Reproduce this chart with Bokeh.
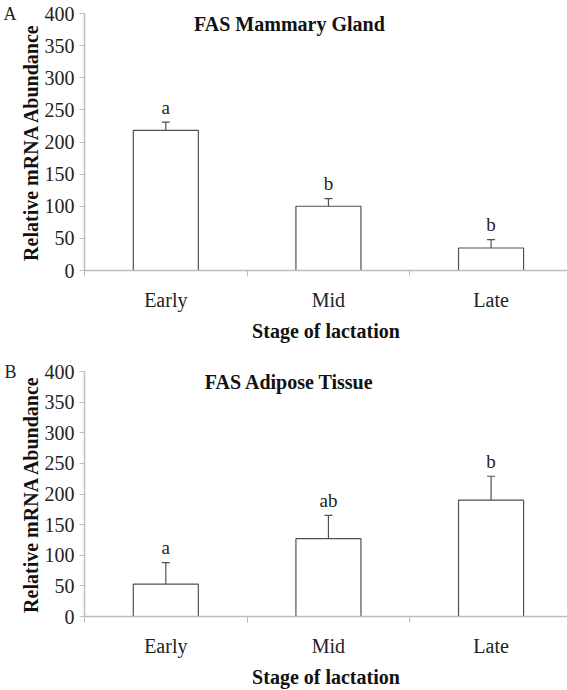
from bokeh.plotting import figure
from bokeh.models import (ColumnDataSource, Range1d, FixedTicker, Whisker, TeeHead,
                          Label, LinearAxis)
from bokeh.layouts import column
from bokeh.core.properties import value
from bokeh.embed import file_html
from bokeh.resources import INLINE

categories = ["Early", "Mid", "Late"]

mammary_mean = [218, 100, 35]
mammary_err = [13, 12, 13]
mammary_letters = ["a", "b", "b"]

adipose_mean = [53, 127, 190]
adipose_err = [35, 38, 39]
adipose_letters = ["a", "ab", "b"]

y_ticks = [0, 50, 100, 150, 200, 250, 300, 350, 400]

FONT = "Liberation Serif"
AXIS_COLOR = "#bdbdbd"
BAR_LINE = "#505050"


def make_panel(title, letter, means, errs, letters, height, top, bottom, title_y):
    xs = [i + 0.5 for i in range(len(categories))]
    src = ColumnDataSource(dict(
        x=xs, mean=means, upper=[m + e for m, e in zip(means, errs)],
        lab=letters))
    p = figure(width=567, height=height, output_backend="svg",
               toolbar_location=None, x_range=Range1d(0, 2.97),
               y_range=Range1d(0, 400),
               min_border_left=83, min_border_right=0,
               min_border_top=top, min_border_bottom=bottom)
    p.outline_line_color = None
    p.xgrid.visible = False
    p.ygrid.visible = False
    p.background_fill_color = "white"
    p.border_fill_color = "white"

    p.vbar(x="x", top="mean", bottom=0, width=0.40, source=src,
           fill_color="white", line_color=BAR_LINE, line_width=1.2)
    w = Whisker(base="x", lower="mean", upper="upper", source=src,
                line_color=BAR_LINE, line_width=1.2,
                upper_head=TeeHead(size=8, line_color=BAR_LINE, line_width=1.2),
                lower_head=None)
    p.add_layout(w)
    p.text(x="x", y="upper", text="lab", source=src, y_offset=-15,
           text_align="center", text_baseline="alphabetic",
           text_font=value(FONT), text_font_size="19px", text_color="#222222")

    xa = p.xaxis[0]
    xa.ticker = FixedTicker(ticks=xs, minor_ticks=[0, 1, 2, 3])
    xa.major_label_overrides = {x: c for x, c in zip(xs, categories)}
    xa.major_tick_out = 0
    xa.major_tick_in = 0
    xa.minor_tick_out = 6
    xa.minor_tick_in = 0
    xa.minor_tick_line_color = AXIS_COLOR
    xa.axis_line_color = AXIS_COLOR
    xa.axis_line_width = 1.5
    xa.major_label_standoff = 12
    xa.major_label_text_font = FONT
    xa.major_label_text_font_size = "20px"
    xa.major_label_text_color = "#222222"
    xa.axis_label = "Stage of lactation"
    xa.axis_label_text_font = FONT
    xa.axis_label_text_font_size = "20px"
    xa.axis_label_text_font_style = "bold"
    xa.axis_label_text_color = "#111111"
    xa.axis_label_standoff = 6

    ya = p.yaxis[0]
    ya.ticker = FixedTicker(ticks=y_ticks)
    ya.major_tick_out = 5
    ya.major_tick_in = 0
    ya.minor_tick_line_color = None
    ya.major_tick_line_color = AXIS_COLOR
    ya.axis_line_color = AXIS_COLOR
    ya.axis_line_width = 1.5
    ya.major_label_standoff = 5
    ya.major_label_text_font = FONT
    ya.major_label_text_font_size = "20px"
    ya.major_label_text_color = "#222222"
    ya.axis_label = "Relative mRNA Abundance"
    ya.axis_label_text_font = FONT
    ya.axis_label_text_font_size = "20px"
    ya.axis_label_text_font_style = "bold"
    ya.axis_label_text_color = "#111111"
    ya.axis_label_standoff = 0

    p.add_layout(Label(x=1.26, y=title_y, text=title, text_align="center",
                       text_baseline="alphabetic", text_font=FONT,
                       text_font_size="20px", text_font_style="bold",
                       text_color="#111111"))

    # panel letter, drawn as the single tick label of an outer left axis
    ax = LinearAxis(ticker=FixedTicker(ticks=[400]),
                    major_label_overrides={400: letter})
    ax.axis_line_color = None
    ax.major_tick_line_color = None
    ax.minor_tick_line_color = None
    ax.major_tick_out = 0
    ax.major_tick_in = 0
    ax.major_label_standoff = 0
    ax.major_label_text_font = FONT
    ax.major_label_text_font_size = "18px"
    ax.major_label_text_color = "#222222"
    p.add_layout(ax, "left")
    return p


pA = make_panel("FAS Mammary Gland", "A", mammary_mean, mammary_err,
                mammary_letters, 350, 13, 80, 384)
pB = make_panel("FAS Adipose Tissue", "B", adipose_mean, adipose_err,
                adipose_letters, 340, 21, 62, 383)

layout = column(pA, pB, spacing=0)
open("out.html", "w").write(file_html(layout, INLINE))
